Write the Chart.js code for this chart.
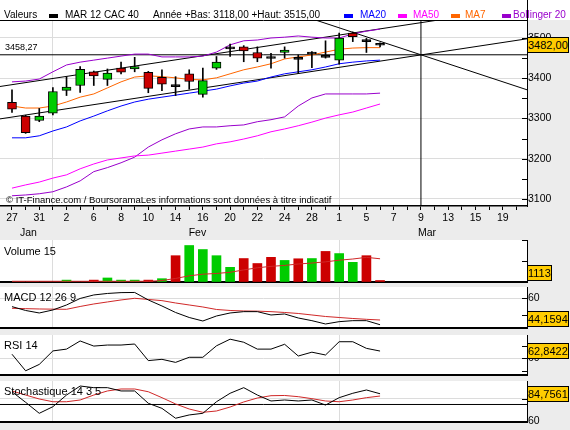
<!DOCTYPE html>
<html lang="fr">
<head>
<meta charset="utf-8">
<title>MAR 12 CAC 40 - Valeurs</title>
<script src="https://cdn.jsdelivr.net/npm/chart.js@4.4.1/dist/chart.umd.min.js"></script>
<style>
  html, body { margin: 0; padding: 0; }
  body { position: relative; width: 570px; height: 430px; overflow: hidden; background: #ececec;
         font-family: "Liberation Sans", Arial, sans-serif; color: #000; }
  canvas { position: absolute; left: 0; }
  .t { position: absolute; white-space: nowrap; line-height: 1; }
  .lg { font-size: 10px; top: 10px; }
  .sq { position: absolute; top: 14px; width: 9px; height: 4px; }
  .ttl { font-size: 11px; left: 4px; }
  .val { position: absolute; left: 527px; height: 14px; line-height: 14px; padding: 0; background: #ffcc00;
         border: 1px solid #000; font-size: 11px; white-space: nowrap; }
</style>
</head>
<body>
  <canvas id="main" width="570" height="240" style="top:0"></canvas>
  <canvas id="vol" width="570" height="64" style="top:230px"></canvas>
  <canvas id="macd" width="570" height="63" style="top:277px"></canvas>
  <canvas id="rsi" width="570" height="62" style="top:325px"></canvas>
  <canvas id="stoch" width="570" height="63" style="top:371px"></canvas>

  <span class="t lg" style="left:4px">Valeurs</span>
  <span class="sq" style="left:49px;background:#000"></span>
  <span class="t lg" style="left:65px">MAR 12 CAC 40</span>
  <span class="t lg" style="left:153px">Année +Bas: 3118,00 +Haut: 3515,00</span>
  <span class="sq" style="left:344px;background:#0000ff"></span>
  <span class="t lg" style="left:360px;color:#0000ff">MA20</span>
  <span class="sq" style="left:398px;background:#ff00ff"></span>
  <span class="t lg" style="left:413px;color:#ff00ff">MA50</span>
  <span class="sq" style="left:451px;background:#ff6600"></span>
  <span class="t lg" style="left:465px;color:#ff6600">MA7</span>
  <span class="sq" style="left:502px;background:#9900cc"></span>
  <span class="t lg" style="left:513px;color:#9900cc">Bollinger 20</span>

  <span class="t" style="left:5px;top:43px;font-size:9px">3458,27</span>
  <span class="t" style="left:6px;top:195px;font-size:9.5px">© IT-Finance.com / BoursoramaLes informations sont données à titre indicatif</span>

  <span class="t ttl" style="top:246px">Volume 15</span>
  <span class="t ttl" style="top:292px">MACD 12 26 9</span>
  <span class="t ttl" style="top:340px">RSI 14</span>
  <span class="t ttl" style="top:386px">Stochastique 14 3 5</span>

<script>
// trading days, Jan 27 -> Mar 20 (labels on every second one)
const days = ['27','30','31','1','2','3','6','7','8','9','10','13','14','15','16','17','20','21','22','23','24',
              '27','28','29','1','2','5','6','7','8','9','12','13','14','15','16','19','20'];
const months = ['Jan', 'Fev', 'Mar'];
const monthAt = [1.2, 13.6, 30.45];
const monthStarts = [3, 24];

// daily candles (28 sessions)
const open  = [3340,3306,3295,3313,3370,3382,3416,3397,3425,3423,3415,3402,3379,3411,3360,3425,3473,3478,3464,3449,3464,3447,3460,3452,3445,3512,3491,3482];
const high  = [3371,3308,3325,3377,3404,3429,3418,3423,3440,3452,3417,3421,3404,3421,3425,3454,3485,3481,3478,3462,3478,3458,3466,3493,3512,3515,3499,3488];
const low   = [3315,3263,3292,3309,3357,3365,3382,3382,3411,3416,3364,3369,3357,3373,3353,3422,3454,3441,3441,3425,3450,3412,3426,3450,3435,3491,3464,3478];
const close = [3323,3265,3306,3367,3378,3422,3406,3413,3415,3429,3375,3385,3379,3392,3394,3440,3473,3468,3450,3449,3470,3447,3460,3452,3500,3503,3491,3482.00];

const ma7  = [3331,3326,3326,3331,3341,3353,3361,3376,3391,3403,3406,3404,3401,3397,3396,3401,3411,3421,3428,3436,3448,3453,3458,3465,3472,3475,3476,3476];
const ma20 = [3252,3252,3257,3269,3279,3294,3306,3319,3331,3341,3348,3353,3358,3363,3368,3373,3381,3388,3393,3403,3411,3416,3421,3428,3436,3440,3443,3445];
const ma50 = [3127,3135,3142,3152,3160,3175,3187,3197,3202,3207,3209,3214,3219,3224,3229,3237,3242,3249,3257,3267,3274,3282,3291,3301,3309,3316,3326,3336];
const bollUp  = [3391,3393,3398,3416,3433,3440,3445,3450,3455,3460,3460,3453,3453,3453,3455,3465,3483,3493,3495,3500,3502,3505,3502,3500,3500,3510,3517,3522];
const bollLow = [3108,3110,3113,3118,3130,3145,3168,3178,3190,3204,3229,3247,3262,3274,3279,3279,3282,3284,3292,3297,3304,3331,3351,3361,3361,3361,3361,3363];

// trend lines on the price panel, [session index, price] end points
const channelTop = [[-0.88, 3379.5], [31.77, 3547.2]];
const channelLow = [[-0.88, 3299], [37.78, 3498]];
const downLine   = [[20, 3570], [37.78, 3371.3]];
const pivotLevel = 3458.27;
const pivotIndex = 30;

const volume = [null,null,null,null,8000,null,8000,17000,8000,8000,8000,14000,111000,154000,137000,111000,62000,99000,78000,104000,91000,98000,99000,129000,120000,83000,111000,1113];
const volMa  = [3000,3000,3000,3000,3000,3000,3000,3000,3000,3000,3000,6000,15000,26000,33000,36000,41000,51000,60000,66000,70000,76000,80000,85000,92000,97000,104000,98000];

const macd       = [55.0,52.7,51.2,53.0,56.0,59.9,62.0,62.9,63.4,63.5,59.0,55.4,51.5,48.5,46.4,49.4,51.2,52.0,52.0,50.0,50.6,48.2,46.6,44.6,46.0,46.6,46.6,44.1594];
const macdSignal = [54.0,53.8,53.6,53.5,53.4,55.1,56.6,57.8,59.0,60.0,59.3,58.6,57.2,56.0,54.8,53.3,52.7,52.4,52.3,52.0,51.5,50.9,50.0,49.1,48.5,47.9,47.4,47.0];
const rsi        = [61.6,55.1,57.6,62.9,63.6,66.8,64.8,65.2,65.2,65.6,59.1,59.6,58.4,60.4,60.4,64.9,67.5,66.3,63.6,63.6,65.5,60.9,62.4,61.3,66.5,66.5,63.9,62.8422];
const stochK     = [86.6,77.0,67.0,73.0,83.6,91.8,90.3,90.3,87.3,87.3,76.1,71.5,62.5,65.5,67.0,77.5,85.2,90.3,83.6,78.2,79.1,78.2,79.1,74.5,81.2,85.2,88.2,84.7561];
const stochD     = [87.3,83.6,80.0,77.5,77.5,79.1,83.6,87.3,89.1,89.1,86.6,81.2,75.5,70.9,67.9,69.1,72.7,77.3,80.9,83.0,83.2,82.1,80.3,78.2,77.5,79.1,81.2,82.7];
const stochLevel = 75;

// ---------------------------------------------------------------
Chart.defaults.font.family = '"Liberation Sans", Arial, sans-serif';
Chart.defaults.font.size = 10.5;
Chart.defaults.color = '#000';

const GRID = '#dcdcdc';
const UP = '#00cc00', DOWN = '#cc0000';
const X_MIN = -0.88, X_MAX = 37.78;

const pts = a => a.map((v, i) => ({ x: i, y: v }));
const seg = a => a.map(([x, y]) => ({ x, y }));
const line = (data, color, extra) => Object.assign({
  type: 'line', data, borderColor: color, borderWidth: 1, pointRadius: 0, fill: false, tension: 0, order: 2
}, extra);

// white plot area, inward y ticks, header rule and month names
const frame = {
  id: 'frame',
  beforeDraw(chart, args, o) {
    const { ctx, chartArea: a } = chart;
    ctx.save();
    ctx.fillStyle = '#fff';
    ctx.fillRect(0, a.top, a.right, a.bottom - a.top);
    if (o.header) ctx.fillRect(0, 0, chart.width, a.top);
    ctx.restore();
  },
  afterDraw(chart, args, o) {
    const { ctx, chartArea: a, scales: { x, y } } = chart;
    ctx.save();
    ctx.strokeStyle = '#000';
    ctx.lineWidth = 1;
    ctx.beginPath();
    y.ticks.forEach(t => {
      const p = Math.round(y.getPixelForValue(t.value)) + 0.5;
      ctx.moveTo(a.right - 5, p); ctx.lineTo(a.right, p);
    });
    if (o.header) {
      ctx.moveTo(0, a.top + 0.5); ctx.lineTo(a.right, a.top + 0.5);
      ctx.moveTo(a.right + 0.5, 0); ctx.lineTo(a.right + 0.5, a.top);
    }
    ctx.stroke();
    if (o.months) {
      ctx.fillStyle = '#000';
      ctx.font = '10.5px "Liberation Sans", Arial, sans-serif';
      ctx.textAlign = 'center';
      ctx.textBaseline = 'alphabetic';
      months.forEach((m, i) => ctx.fillText(m, x.getPixelForValue(monthAt[i]), o.monthsBaseline));
    }
    ctx.restore();
  }
};
Chart.register(frame);

function xAxis(showLabels) {
  return {
    type: 'linear', min: X_MIN, max: X_MAX, offset: false,
    afterFit: s => { s.height = showLabels ? 34 : 12; },
    ticks: {
      display: showLabels, stepSize: 1, autoSkip: false, includeBounds: false, maxRotation: 0, padding: 2,
      callback: v => (v % 2 === 0 ? days[v] : '')
    },
    grid: {
      offset: false, drawTicks: showLabels, tickLength: 4, tickColor: '#000',
      color: c => (c.tick && monthStarts.includes(c.tick.value) ? GRID : 'transparent')
    },
    border: { color: '#000', width: showLabels ? 1.5 : 2 }
  };
}

function yAxis(min, max, step, gridAt, label) {
  return {
    position: 'right', min, max,
    afterFit: s => { s.width = 43; },
    ticks: { stepSize: step, includeBounds: false, padding: 1, callback: v => label(v) },
    grid: { drawTicks: false, color: c => (c.tick && gridAt(c.tick.value) ? GRID : 'transparent') },
    border: { color: '#000', width: 1 }
  };
}

function baseOptions(x, y, pad, frameOpts) {
  return {
    responsive: false, animation: false, devicePixelRatio: 1, events: [],
    layout: { padding: { top: pad, left: 0, right: 0, bottom: 0 } },
    plugins: { legend: { display: false }, tooltip: { enabled: false }, frame: frameOpts || {} },
    scales: { x, y }
  };
}

function valueBox(chart, canvasTop, value, text) {
  const a = chart.chartArea;
  let y = chart.scales.y.getPixelForValue(value) - 8;
  y = Math.max(a.top, Math.min(y, a.bottom - 17));
  const el = document.createElement('div');
  el.className = 'val';
  el.textContent = text;
  el.style.top = Math.round(canvasTop + y) + 'px';
  document.body.appendChild(el);
}

const fr = (v, d) => v.toFixed(d).replace('.', ',');
const last = a => a[a.length - 1];

// ---- price panel ----
const bodyColors = close.map((c, i) => (c > open[i] ? UP : c < open[i] ? DOWN : '#000'));
const mainChart = new Chart(document.getElementById('main'), {
  type: 'bar',
  data: {
    datasets: [
      { type: 'bar', data: close.map((c, i) => ({ x: i, y: [open[i], c] })), backgroundColor: bodyColors,
        borderColor: '#000', borderWidth: 1, borderSkipped: false, barThickness: 9, minBarLength: 2, grouped: false, order: 0 },
      { type: 'bar', data: high.map((h, i) => ({ x: i, y: [low[i], h] })), backgroundColor: '#000',
        barThickness: 1, grouped: false, order: 1 },
      line(pts(ma7), '#ff6600'),
      line(pts(ma20), '#0000ff'),
      line(pts(ma50), '#ff00ff'),
      line(pts(bollUp), '#9900cc'),
      line(pts(bollLow), '#9900cc'),
      line(seg(channelTop), '#000'),
      line(seg(channelLow), '#000'),
      line(seg(downLine), '#000'),
      line([{ x: X_MIN, y: pivotLevel }, { x: X_MAX, y: pivotLevel }], '#000'),
      line([{ x: pivotIndex, y: 3000 }, { x: pivotIndex, y: 3600 }], '#000')
    ]
  },
  options: baseOptions(
    xAxis(true),
    yAxis(3082.6, 3544.7, 50, v => v % 100 === 0, v => (v % 100 === 0 ? v : '')),
    20, { header: true, months: true, monthsBaseline: 236 })
});
valueBox(mainChart, 0, last(close), fr(last(close), 2));

// ---- volume ----
const volColors = close.map((c, i) => (i === 0 || c >= close[i - 1] ? UP : DOWN));
const volChart = new Chart(document.getElementById('vol'), {
  type: 'bar',
  data: {
    datasets: [
      { type: 'bar', data: pts(volume), backgroundColor: volColors, barThickness: 9, minBarLength: 1.5, grouped: false, order: 1 },
      line(pts(volMa), '#d02828', { order: 0 })
    ]
  },
  options: baseOptions(xAxis(false), yAxis(0, 177200, 50000, v => v === 100000, v => (v === 100000 ? '100K' : '')), 10)
});
valueBox(volChart, 230, last(volume), String(last(volume)));

// ---- MACD ----
const macdChart = new Chart(document.getElementById('macd'), {
  type: 'line',
  data: { datasets: [line(pts(macdSignal), '#d02828'), line(pts(macd), '#000', { order: 1 })] },
  options: baseOptions(xAxis(false), yAxis(42.2, 66.77, 10, v => v === 60, v => (v === 60 ? '60' : '')), 10)
});
valueBox(macdChart, 277, last(macd), fr(last(macd), 4));

// ---- RSI ----
const rsiChart = new Chart(document.getElementById('rsi'), {
  type: 'line',
  data: { datasets: [line(pts(rsi), '#000')] },
  options: baseOptions(xAxis(false), yAxis(53.45, 69.14, 5, v => v === 60, v => (v === 60 ? '60' : '')), 10)
});
valueBox(rsiChart, 325, last(rsi), fr(last(rsi), 4));

// ---- Stochastic ----
const stochChart = new Chart(document.getElementById('stoch'), {
  type: 'line',
  data: {
    datasets: [
      line([{ x: X_MIN, y: stochLevel }, { x: X_MAX, y: stochLevel }], '#000', { order: 3 }),
      line(pts(stochD), '#d02828'),
      line(pts(stochK), '#000', { order: 1 })
    ]
  },
  options: baseOptions(xAxis(false), yAxis(59.09, 96.36, 10, v => v === 80, v => (v === 60 ? '60' : '')), 10)
});
valueBox(stochChart, 371, last(stochK), fr(last(stochK), 4));
</script>
</body>
</html>
